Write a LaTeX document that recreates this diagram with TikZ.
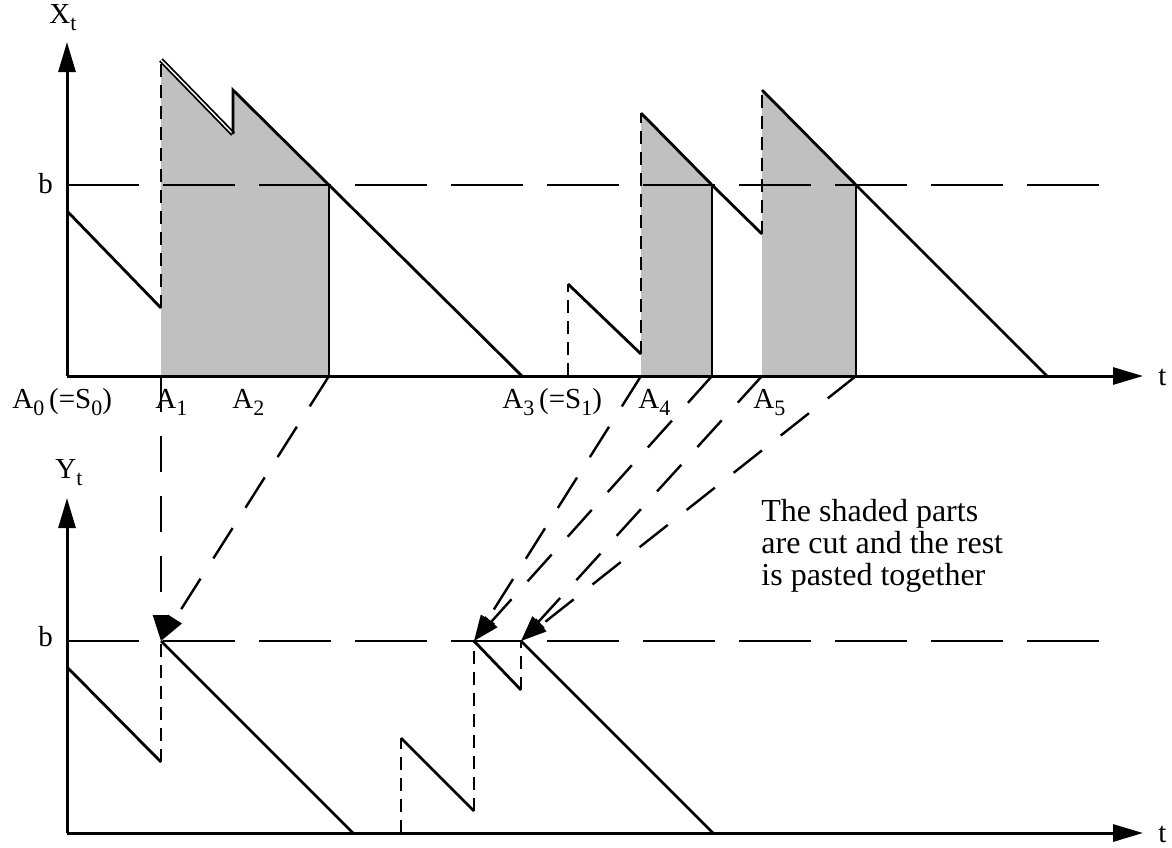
\documentclass[tikz,border=0pt]{standalone}
\usepackage{fontspec}
\setmainfont{Liberation Serif}
\usetikzlibrary{arrows.meta}
\definecolor{cutgray}{RGB}{192,192,192}
\newcommand{\lowsub}[1]{\raisebox{-3.5pt}{\fontsize{11}{11}\selectfont #1}}
\tikzstyle{curve}=[line width=1.4pt, line join=miter]
\tikzstyle{axis}=[line width=1.5pt, -{Triangle[length=15pt,width=8.5pt]}]
\tikzstyle{level}=[line width=1.3pt, dash pattern=on 36pt off 12pt]
\tikzstyle{jump}=[line width=1.3pt, dash pattern=on 6.5pt off 4pt]
\tikzstyle{map}=[line width=1.2pt, dash pattern=on 18pt off 12pt, -{Triangle[length=13pt,width=8pt]}]
\tikzstyle{cut}=[fill=cutgray]
\tikzstyle{lbl}=[inner sep=0pt, anchor=base west, font=\fontsize{14.5}{16}\selectfont]

\begin{document}
\begin{tikzpicture}[x=0.5pt,y=-0.5pt]
    \useasboundingbox (0,0) rectangle (1172,847);
    % upper chart X_t
    \coordinate (xo) at (67,376);
    \coordinate (xtop) at (67,42);
    \coordinate (xend) at (1143,376);
    \coordinate (b1l) at (67,185);
    \coordinate (b1r) at (1100,185);
    \coordinate (p0) at (67,211);
    \coordinate (p1) at (161,308);
    \coordinate (a1) at (161,376);
    \coordinate (a1t) at (161,60);
    \coordinate (q1) at (233,134);
    \coordinate (q1t) at (233,90);
    \coordinate (c1) at (329,185);
    \coordinate (c1b) at (329,376);
    \coordinate (z1) at (522,376);
    \coordinate (s1b) at (568,376);
    \coordinate (s1t) at (568,284);
    \coordinate (r1) at (641,354);
    \coordinate (a4) at (641,376);
    \coordinate (a4t) at (641,113);
    \coordinate (c2) at (712,185);
    \coordinate (c2b) at (712,376);
    \coordinate (r2) at (762,234);
    \coordinate (a5) at (762,376);
    \coordinate (a5t) at (762,90);
    \coordinate (c3) at (856,185);
    \coordinate (c3b) at (856,376);
    \coordinate (z2) at (1047,376);
    % lower chart Y_t
    \coordinate (yo) at (67,833);
    \coordinate (ytop) at (67,498);
    \coordinate (yend) at (1143,833);
    \coordinate (b2l) at (67,641);
    \coordinate (b2r) at (1100,641);
    \coordinate (u0) at (67,667);
    \coordinate (u1) at (161,762);
    \coordinate (m1) at (161,641);
    \coordinate (w1) at (353,833);
    \coordinate (v0b) at (401,833);
    \coordinate (v0t) at (401,738);
    \coordinate (v1) at (474,811);
    \coordinate (m2) at (474,641);
    \coordinate (v2) at (521,690);
    \coordinate (m3) at (521,641);
    \coordinate (w2) at (713,833);

    % shaded parts
    \fill[cut] (a1) -- (a1t) -- (q1) -- (q1t) -- (c1) -- (c1b) -- cycle;
    \fill[cut] (a4) -- (a4t) -- (c2) -- (c2b) -- cycle;
    \fill[cut] (a5) -- (a5t) -- (c3) -- (c3b) -- cycle;

    \draw[level] (b1l) -- (b1r);
    \draw[level] (b2l) -- (b2r);

    % X_t path
    \draw[curve] (p0) -- (p1);
    \draw[jump] (p1) -- (a1t);
    \draw[curve, double=white, double distance=0.7pt, line width=0.9pt] (a1t) -- (q1);
    \draw[curve] (q1) -- (q1t) -- (c1) -- (z1);
    \draw[curve] (c1) -- (c1b);
    \draw[jump] (s1b) -- (s1t);
    \draw[curve] (s1t) -- (r1);
    \draw[jump] (r1) -- (a4t);
    \draw[curve] (a4t) -- (c2) -- (r2);
    \draw[curve] (c2) -- (c2b);
    \draw[jump] (r2) -- (a5t);
    \draw[curve] (a5t) -- (c3) -- (z2);
    \draw[curve] (c3) -- (c3b);

    % Y_t path
    \draw[curve] (u0) -- (u1);
    \draw[jump] (u1) -- (m1);
    \draw[curve] (m1) -- (w1);
    \draw[jump] (v0b) -- (v0t);
    \draw[curve] (v0t) -- (v1);
    \draw[jump] (v1) -- (m2);
    \draw[curve] (m2) -- (v2);
    \draw[jump] (v2) -- (m3);
    \draw[curve] (m3) -- (w2);

    % axes
    \draw[axis] (xo) -- (xtop);
    \draw[axis] (xo) -- (xend);
    \draw[axis] (yo) -- (ytop);
    \draw[axis] (yo) -- (yend);

    % cut and paste
    \draw[map] (a1) -- (m1);
    \draw[map] (c1b) -- (m1);
    \draw[map] (a4) -- (m2);
    \draw[map] (c2b) -- (m2);
    \draw[map] (a5) -- (m3);
    \draw[map] (c3b) -- (m3);

    % labels
    \node[lbl] (xlab) at (49,23) {X\lowsub{t}};
    \node[lbl] (ylab) at (55,478) {Y\lowsub{t}};
    \node[lbl] (b1) at (38,193) {b};
    \node[lbl] (b2) at (38,646) {b};
    \node[lbl] (t1) at (1158,385) {t};
    \node[lbl] (t2) at (1158,842) {t};
    \node[lbl] (A0) at (12,408) {A\lowsub{0}\,(=S\lowsub{0})};
    \node[lbl] (A1) at (155,408) {A\lowsub{1}};
    \node[lbl] (A2) at (232,408) {A\lowsub{2}};
    \node[lbl] (A3) at (502,408) {A\lowsub{3}\,(=S\lowsub{1})};
    \node[lbl] (A4) at (638,408) {A\lowsub{4}};
    \node[lbl] (A5) at (753,408) {A\lowsub{5}};
    \node[lbl, anchor=north west, align=left, font=\fontsize{16}{16}\selectfont] (note) at (761,499)
        {The shaded parts\\are cut and the rest\\is pasted together};
\end{tikzpicture}
\end{document}
